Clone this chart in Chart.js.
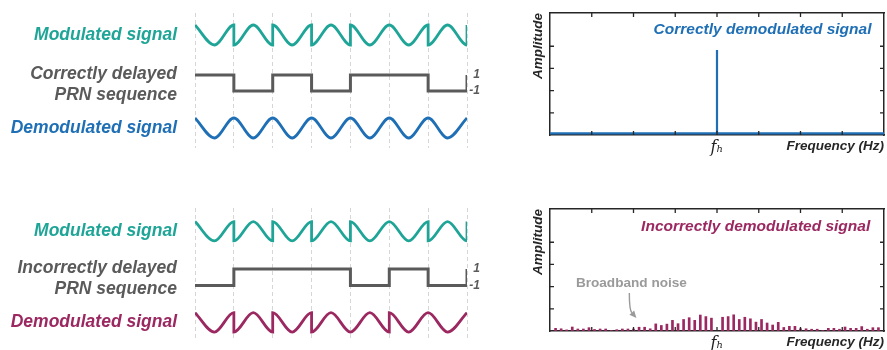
<!DOCTYPE html>
<html><head><meta charset="utf-8">
<script src="https://cdn.jsdelivr.net/npm/chart.js@4.4.1/dist/chart.umd.min.js"></script>
<style>
html,body{margin:0;padding:0;background:#fff;}
#wrap{position:relative;width:887px;height:350px;overflow:hidden;background:#fff;}
canvas{position:absolute;}
</style></head><body>
<div id="wrap">
<canvas id="lt" width="490" height="160" style="left:0;top:0"></canvas>
<canvas id="lb" width="490" height="155" style="left:0;top:195px"></canvas>
<canvas id="rt" width="387" height="160" style="left:500px;top:0"></canvas>
<canvas id="rb" width="387" height="155" style="left:500px;top:195px"></canvas>
</div>
<script>
// ---------- data ----------
// time axis of the left panels, in chip units (one carrier cycle per chip)
const waveTimes = [0,0.5,1, 1,1.5,2, 2,2.5,3, 3,3.5,4, 4,4.5,5, 5,5.5,6, 6,6.5,7];
const modTimes  = [0,0.5,1, 1,1.5,2, 2,2.5,3, 3,3.5,4, 4,4.5,5, 5,5.5,6, 6,6.5,7, 7];
// signal levels read at chip start / middle / end (+1 crest, -1 trough)
const modulatedWave      = [1,-1,1, -1,1,-1, 1,-1,1, -1,1,-1, 1,-1,1, 1,-1,1, -1,1,-1, 1];
const demodCorrectWave   = [1,-1,1, 1,-1,1, 1,-1,1, 1,-1,1, 1,-1,1, 1,-1,1, 1,-1,1];
const demodIncorrectWave = [1,-1,1, -1,1,-1, 1,-1,1, -1,1,-1, -1,1,-1, 1,-1,1, 1,-1,1];
// PRN chips (value held from each chip start; last entry = level after the final edge)
const prnTimes     = [0,1,2,3,4,5,6,7];
const correctPRN   = [1,-1,1,-1,1,1,-1,1];
const incorrectPRN = [-1,1,1,1,-1,1,-1,1];
const prnTickValues = [1,-1];

// spectra
const freqTicks      = [0,1,2,3,4,5,6,7,8];
const freqTickLabels = ['','','','','f\u2095','','','',''];
const specFreq    = [0, 4, 4, 4, 8];
const specCorrect = [0.07, 0.07, 3.83, 0.07, 0.07];
const binLabels = Array.from({length:61}, (_, i) => String(i));
const noiseAmplitude = [0,
  0.12,0.10,0.05,0.18,0.09,0.09,0.15,0.07,0.09,0.09,
  0.02,0.06,0.09,0.09,0.09,0.17,0.17,0.10,0.32,0.25,
  0.31,0.48,0.33,0.52,0.60,0.48,0.72,0.65,0.58,0,
  0.62,0.65,0.73,0.52,0.62,0.55,0.40,0.52,0.36,0.27,
  0.39,0.16,0.21,0.21,0.10,0.10,0.08,0.08,0.02,0.12,
  0.12,0.08,0.18,0.12,0.12,0.20,0.08,0.15,0.15,0];

// ---------- styles ----------
const FONT = '"Liberation Sans", Arial, Helvetica, sans-serif';
const C = {teal:'#1fa597', blue:'#1e6fb5', magenta:'#9b2860', gray:'#5a5a5a',
           frame:'#262626', grid:'#d6d6d6', note:'#9a9a9a'};

function pts(xs, ys){ return xs.map((x, i) => ({x, y: ys[i]})); }
// axis range so that +1 / -1 fall on the given pixel rows of the plot area
function band(rows, area){
  const s = (rows[1] - rows[0]) / 2;
  return {min: -1 - (area[1] - rows[1]) / s, max: 1 + (rows[0] - area[0]) / s};
}

// ---------- plugins ----------
const sideLabels = {id:'sideLabels', afterDraw(chart, args, o){
  const {ctx, chartArea:a} = chart;
  ctx.save(); ctx.font = o.font; ctx.textAlign = 'right'; ctx.textBaseline = 'middle';
  o.items.forEach(it => {
    const yc = chart.scales[it.axis].getPixelForValue(0) + (it.dy || 0);
    const n = it.lines.length;
    ctx.fillStyle = it.color;
    it.lines.forEach((ln, i) => ctx.fillText(ln, a.left - o.gap, yc + (i - (n - 1) / 2) * o.lineGap));
  });
  ctx.restore();
}};

const inTicks = {id:'inTicks', afterDraw(chart, args, o){
  const {ctx, chartArea:a} = chart; const xs = chart.scales.x, ys = chart.scales.y;
  ctx.save(); ctx.strokeStyle = o.color; ctx.lineWidth = o.width; ctx.beginPath();
  xs.ticks.forEach(t => { if (t.value <= xs.min || t.value >= xs.max) return;
    const p = xs.getPixelForValue(t.value);
    ctx.moveTo(p, a.bottom); ctx.lineTo(p, a.bottom - o.len);
    ctx.moveTo(p, a.top); ctx.lineTo(p, a.top + o.len); });
  ys.ticks.forEach(t => { if (t.value <= ys.min || t.value >= ys.max) return;
    const p = ys.getPixelForValue(t.value);
    ctx.moveTo(a.left, p); ctx.lineTo(a.left + o.len, p);
    ctx.moveTo(a.right, p); ctx.lineTo(a.right - o.len, p); });
  ctx.stroke(); ctx.restore();
}};

const notes = {id:'notes', afterDraw(chart, args, o){
  const {ctx} = chart; const xs = chart.scales.x, ys = chart.scales.y;
  const X = v => xs.getPixelForValue(v), Y = v => ys.getPixelForValue(v);
  (o.items || []).forEach(it => {
    ctx.save();
    if (it.text){
      ctx.font = it.font; ctx.fillStyle = it.color; ctx.textAlign = it.align || 'left';
      ctx.textBaseline = 'middle'; ctx.fillText(it.text, X(it.x), Y(it.y));
    }
    if (it.arrow){
      const f = it.arrow.from, c = it.arrow.ctrl, t = it.arrow.to;
      const fx = X(f[0]), fy = Y(f[1]), cx = X(c[0]), cy = Y(c[1]), tx = X(t[0]), ty = Y(t[1]);
      const ang = Math.atan2(ty - cy, tx - cx), L = 7, W = 3.2;
      const bx = tx - L * Math.cos(ang), by = ty - L * Math.sin(ang);
      ctx.strokeStyle = it.color; ctx.fillStyle = it.color; ctx.lineWidth = 1.4;
      ctx.beginPath(); ctx.moveTo(fx, fy); ctx.quadraticCurveTo(cx, cy, bx, by); ctx.stroke();
      ctx.beginPath(); ctx.moveTo(tx, ty);
      ctx.lineTo(bx + W * Math.sin(ang), by - W * Math.cos(ang));
      ctx.lineTo(bx - W * Math.sin(ang), by + W * Math.cos(ang));
      ctx.closePath(); ctx.fill();
    }
    ctx.restore();
  });
}};

// ---------- left panels ----------
function makeLeft(id, cfg){
  const area = [cfg.pad.top, cfg.h - cfg.pad.bottom];
  const rm = band(cfg.rows.mod, area), rp = band(cfg.rows.prn, area), rd = band(cfg.rows.dem, area);
  const wave = {borderWidth:2.8, pointRadius:0, cubicInterpolationMode:'monotone', fill:false,
                borderJoinStyle:'miter', borderCapStyle:'butt'};
  const hidden = r => ({type:'linear', display:false, min:r.min, max:r.max});
  new Chart(document.getElementById(id), {
    type:'line',
    data:{datasets:[
      Object.assign({data:pts(modTimes, modulatedWave), yAxisID:'yMod', borderColor:C.teal}, wave),
      {data:pts(prnTimes, cfg.prn), yAxisID:'yPrn', borderColor:C.gray, stepped:true, borderWidth:3,
       pointRadius:0, fill:false, borderJoinStyle:'miter', borderCapStyle:'butt'},
      Object.assign({data:pts(waveTimes, cfg.dem), yAxisID:'yDem', borderColor:cfg.demColor}, wave)
    ]},
    options:{
      responsive:false, animation:false, events:[],
      layout:{padding:cfg.pad, autoPadding:false},
      plugins:{legend:{display:false}, tooltip:{enabled:false},
        sideLabels:{font:'italic bold 17.5px ' + FONT, gap:18, lineGap:21, items:[
          {lines:['Modulated signal'], color:C.teal, axis:'yMod'},
          {lines:cfg.prnLabel, color:C.gray, axis:'yPrn', dy:1.5},
          {lines:['Demodulated signal'], color:cfg.demColor, axis:'yDem'}]}},
      scales:{
        x:{type:'linear', min:0, max:7, ticks:{display:false, stepSize:1},
           grid:{color:C.grid, lineWidth:1, drawTicks:false}, border:{display:false, dash:[4,3]},
           afterFit:s => { s.height = 0; }},
        yMod:hidden(rm), yDem:hidden(rd),
        yPrn:{type:'linear', position:'right', min:rp.min, max:rp.max,
          grid:{display:false, drawTicks:false}, border:{display:false},
          ticks:{padding:2, crossAlign:'far', color:C.gray, font:{family:FONT, size:12, style:'italic', weight:'bold'}},
          afterBuildTicks:s => { s.ticks = prnTickValues.map(v => ({value:v})); },
          afterFit:s => { s.width = 13; }}
      }
    },
    plugins:[sideLabels]
  });
}

makeLeft('lt', {h:160, pad:{left:195, right:10, top:13, bottom:12},
  rows:{mod:[25,45], prn:[75,91], dem:[118,138]},
  prn:correctPRN, dem:demodCorrectWave, demColor:C.blue, prnLabel:['Correctly delayed','PRN sequence']});
makeLeft('lb', {h:155, pad:{left:195, right:10, top:13, bottom:5},
  rows:{mod:[27,47], prn:[76,93], dem:[121,141]},
  prn:incorrectPRN, dem:demodIncorrectWave, demColor:C.magenta, prnLabel:['Incorrectly delayed','PRN sequence']});

// ---------- right panels ----------
function makeRight(id, cfg){
  const frame = {display:true, color:C.frame, width:1.5};
  const bold = s => ({family:FONT, size:s, style:'italic', weight:'bold'});
  new Chart(document.getElementById(id), {
    type:'bar',
    data:{labels:binLabels, datasets:cfg.datasets},
    options:{
      responsive:false, animation:false, events:[],
      layout:{padding:{left:28, right:1, top:cfg.top, bottom:0}, autoPadding:false},
      plugins:{legend:{display:false}, tooltip:{enabled:false},
        inTicks:{len:4, color:C.frame, width:1.3}, notes:{items:cfg.notes}},
      scales:{
        x:{type:'linear', position:'bottom', min:0, max:8, offset:false,
           ticks:{stepSize:1, autoSkip:false, maxRotation:0, padding:3, color:'#222',
             font:{family:'"DejaVu Serif","Liberation Serif",serif', size:16, style:'italic'},
             callback:v => { const i = freqTicks.indexOf(v); return i < 0 ? '' : freqTickLabels[i]; }},
           grid:{display:false, drawTicks:false, offset:false}, border:frame,
           title:{display:true, text:'Frequency (Hz)', align:'end', color:C.frame, font:bold(13.5),
             padding:{top:0, bottom:cfg.titlePad}},
           afterFit:s => { s.height = cfg.xh; }},
        xTop:{type:'linear', position:'top', min:0, max:8, offset:false, ticks:{display:false},
           grid:{display:false, drawTicks:false, offset:false}, border:frame, afterFit:s => { s.height = 0; }},
        xBin:{type:'category', labels:binLabels, display:false, offset:false, grid:{offset:false}},
        y:{type:'linear', position:'left', min:0, max:5.5, ticks:{display:false, stepSize:1},
           grid:{display:false, drawTicks:false}, border:frame,
           title:{display:true, text:'Amplitude', align:'end', color:C.frame, font:bold(13.5), padding:{top:2, bottom:0}},
           afterFit:s => { s.width = 22; }},
        yRight:{type:'linear', position:'right', min:0, max:5.5, ticks:{display:false},
           grid:{display:false, drawTicks:false}, border:frame, afterFit:s => { s.width = 0; }}
      }
    },
    plugins:[inTicks, notes]
  });
}

makeRight('rt', {top:13, xh:25, titlePad:5.9,
  datasets:[{type:'line', data:pts(specFreq, specCorrect), xAxisID:'x', yAxisID:'y',
    borderColor:C.blue, borderWidth:2.2, pointRadius:0, fill:false, tension:0}],
  notes:[{text:'Correctly demodulated signal', x:7.7, y:4.73, align:'right', color:C.blue,
    font:'italic bold 15.5px ' + FONT}]});

makeRight('rb', {top:14, xh:19, titlePad:0,
  datasets:[{type:'bar', data:noiseAmplitude, xAxisID:'xBin', yAxisID:'y',
    backgroundColor:C.magenta, barThickness:2, borderWidth:0}],
  notes:[{text:'Incorrectly demodulated signal', x:7.67, y:4.70, align:'right', color:C.magenta,
    font:'italic bold 15.5px ' + FONT},
    {text:'Broadband noise', x:0.62, y:2.16, align:'left', color:C.note, font:'bold 13.6px ' + FONT},
    {arrow:{from:[1.90,1.71], ctrl:[1.90,0.95], to:[2.07,0.59]}, color:C.note}]});
</script>
</body></html>
